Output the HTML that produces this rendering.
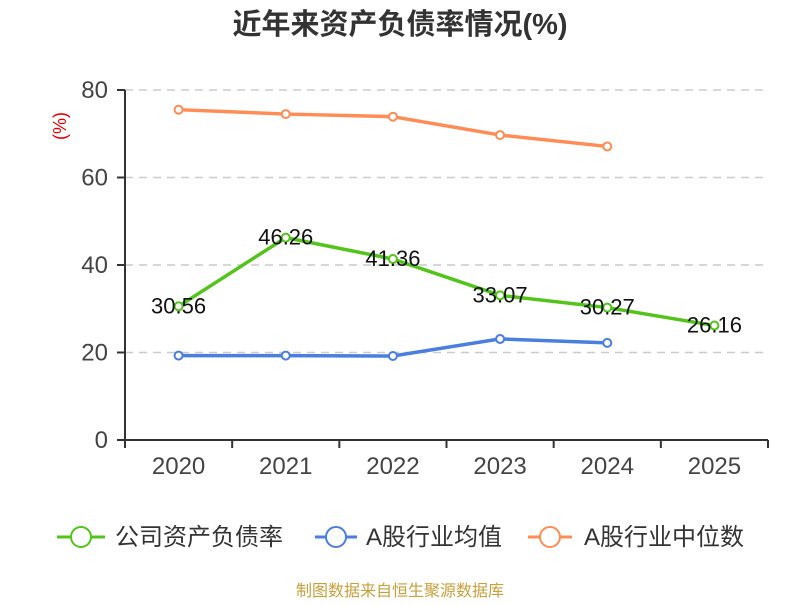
<!DOCTYPE html>
<html><head><meta charset="utf-8"><style>
body{margin:0;background:#fff;}
svg text{font-family:"Liberation Sans","Noto Sans CJK SC",sans-serif;}
</style></head><body>
<svg id="c" width="800" height="600" xmlns="http://www.w3.org/2000/svg">
<text x="400" y="34" text-anchor="middle" font-size="29" font-weight="bold" fill="#333">近年来资产负债率情况(%)</text>
<text transform="translate(66,126) rotate(-90)" text-anchor="middle" font-size="18" fill="#e00">(%)</text>
<g id="grid"></g><g id="axes"></g><g id="series"></g>
<g>
<g><line x1="57" y1="537" x2="105" y2="537" stroke="#52c41a" stroke-width="3"/><circle cx="81" cy="537" r="10" fill="#fff" stroke="#52c41a" stroke-width="2"/><text x="115" y="545" font-size="24" fill="#333">公司资产负债率</text></g>
<g><line x1="315" y1="537" x2="357" y2="537" stroke="#4a7ee0" stroke-width="3"/><circle cx="336" cy="537" r="10" fill="#fff" stroke="#4a7ee0" stroke-width="2"/><text x="366" y="545" font-size="24" fill="#333">A股行业均值</text></g>
<g><line x1="528" y1="537" x2="572" y2="537" stroke="#ff8c55" stroke-width="3"/><circle cx="550" cy="537" r="10" fill="#fff" stroke="#ff8c55" stroke-width="2"/><text x="584" y="545" font-size="24" fill="#333">A股行业中位数</text></g>
</g>
<text x="400" y="596" text-anchor="middle" font-size="16" fill="#c8a03c">制图数据来自恒生聚源数据库</text>
</svg>
<script>
const categories=["2020","2021","2022","2023","2024","2025"];
const companyValues=[30.56,46.26,41.36,33.07,30.27,26.16];
const avgValues=[19.3,19.3,19.2,23.1,22.2,null];
const medianValues=[75.5,74.5,73.9,69.7,67.1,null];
const yTicks=[0,20,40,60,80];
const NS="http://www.w3.org/2000/svg";
const x0=125,x1=768,yBase=440,yTop=90,yMax=80;
const bw=(x1-x0)/categories.length;
const xs=i=>x0+bw*(i+0.5);
const ys=v=>yBase-(v/yMax)*(yBase-yTop);
function mk(tag,attrs,parent){const e=document.createElementNS(NS,tag);for(const k in attrs)e.setAttribute(k,attrs[k]);parent.appendChild(e);return e;}
const grid=document.getElementById('grid'),axes=document.getElementById('axes'),ser=document.getElementById('series');
yTicks.forEach(t=>{
  const y=ys(t);
  if(t>0){const g=mk('line',{x1:x0,x2:x1,y1:y,y2:y,stroke:'#ccc','stroke-width':1.5,'stroke-dasharray':'8,6'},grid);
  
  }
  const tk=mk('line',{x1:x0-8,x2:x0,y1:y,y2:y,stroke:'#333','stroke-width':2},axes);
  
  
  const tx=mk('text',{x:x0-17,y:y+8,'text-anchor':'end','font-size':24,fill:'#444'},axes);tx.textContent=t;
  
  
});
const ya=mk('line',{x1:x0,x2:x0,y1:yTop,y2:yBase,stroke:'#333','stroke-width':2},axes);


const xa=mk('line',{x1:x0,x2:x1,y1:yBase,y2:yBase,stroke:'#333','stroke-width':2},axes);


for(let i=0;i<=categories.length;i++){const t=mk('line',{x1:x0+bw*i,x2:x0+bw*i,y1:yBase,y2:yBase+8,stroke:'#333','stroke-width':2},axes);

}
categories.forEach((c,i)=>{const t=mk('text',{x:xs(i),y:yBase+34,'text-anchor':'middle','font-size':24,fill:'#444'},axes);t.textContent=c;

});
function drawSeries(vals,color,name,labels){
  const pts=[];vals.forEach((v,i)=>{if(v!=null)pts.push([xs(i),ys(v),v]);});
  const pl=mk('polyline',{points:pts.map(p=>p[0]+','+p[1]).join(' '),fill:'none',stroke:color,'stroke-width':3.5},ser);
  
  
  pts.forEach(p=>{const c=mk('circle',{cx:p[0],cy:p[1],r:4,fill:'#fff',stroke:color,'stroke-width':2},ser);
    
    });
  if(labels)pts.forEach(p=>{const t=mk('text',{x:p[0],y:p[1]+7,'text-anchor':'middle','font-size':22,fill:'#111'},ser);t.textContent=p[2].toFixed(2);
    
    });
}
drawSeries(medianValues,'#ff8c55','industry-median',false);
drawSeries(avgValues,'#4a7ee0','industry-average',false);
drawSeries(companyValues,'#52c41a','company',true);
</script>
</body></html>
